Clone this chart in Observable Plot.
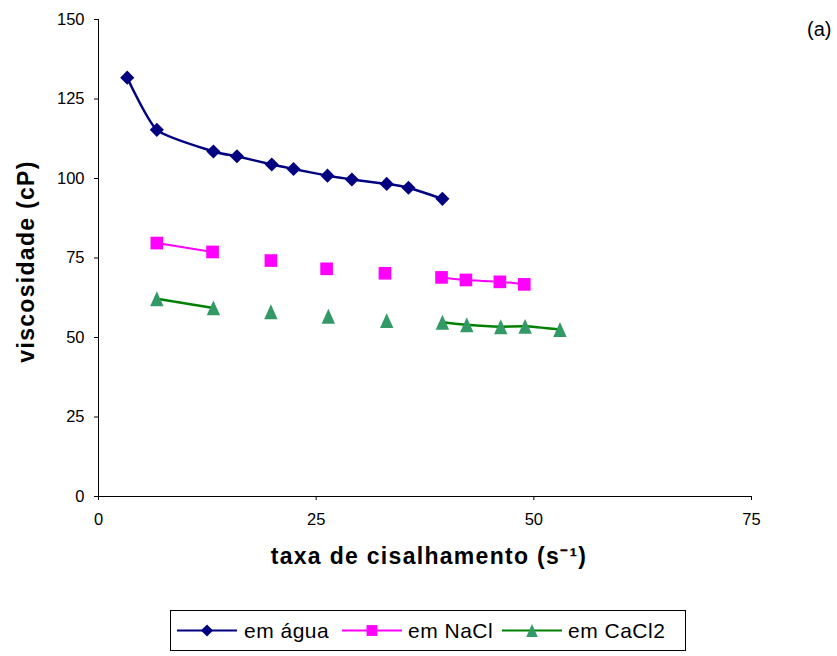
<!DOCTYPE html>
<html>
<head>
<meta charset="utf-8">
<script src="https://cdn.jsdelivr.net/npm/d3@7"></script>
<script src="https://cdn.jsdelivr.net/npm/@observablehq/plot@0.6"></script>
<style>
  body { margin: 0; background: #fff; font-family: "Liberation Sans", Arial, sans-serif; }
  #wrap { position: relative; width: 837px; height: 656px; }
  #legend { position: absolute; left: 170px; top: 610px; width: 514px; height: 39px; border: 1px solid #000; background: #fff; }
  #legend svg { display: block; }
</style>
</head>
<body>
<div id="wrap">
  <div id="chart"></div>
  <div id="legend"></div>
</div>
<script>
// Viscosidade aparente em função da taxa de cisalhamento
const series = ["em água", "em NaCl", "em CaCl2"];

const taxaAgua = [3.3, 6.7, 13.2, 15.9, 19.9, 22.4, 26.3, 29.1, 33.1, 35.6, 39.5];
const viscAgua = [131.7, 115.3, 108.5, 107.0, 104.4, 103.0, 100.9, 99.7, 98.3, 97.1, 93.6];
const trechoAgua = [1, 1, 1, 1, 1, 1, 1, 1, 1, 1, 1];

const taxaNaCl = [6.7, 13.1, 19.8, 26.2, 32.9, 39.4, 42.2, 46.1, 48.9];
const viscNaCl = [79.7, 76.9, 74.2, 71.6, 70.2, 68.9, 68.1, 67.5, 66.7];
const trechoNaCl = [1, 1, 0, 0, 0, 2, 2, 2, 2];

const taxaCaCl2 = [6.7, 13.2, 19.8, 26.4, 33.1, 39.5, 42.3, 46.2, 49.0, 53.0];
const viscCaCl2 = [62.2, 59.3, 58.1, 56.7, 55.3, 54.8, 54.0, 53.4, 53.5, 52.5];
const trechoCaCl2 = [1, 1, 0, 0, 0, 2, 2, 2, 2, 2];

const xTicks = [0, 25, 50, 75];
const yTicks = [0, 25, 50, 75, 100, 125, 150];

const linhas = (taxa, visc, trecho) =>
  taxa.map((t, i) => ({ taxa: t, visc: visc[i], trecho: trecho[i] }));

const agua = linhas(taxaAgua, viscAgua, trechoAgua);
const nacl = linhas(taxaNaCl, viscNaCl, trechoNaCl);
const cacl2 = linhas(taxaCaCl2, viscCaCl2, trechoCaCl2);

// Marcadores no estilo de planilha
const losango = { draw(ctx, size) { const h = Math.sqrt(size) * 0.57; ctx.moveTo(0, -h); ctx.lineTo(h, 0); ctx.lineTo(0, h); ctx.lineTo(-h, 0); ctx.closePath(); } };
const quadrado = { draw(ctx, size) { const h = Math.sqrt(size) * 0.51; ctx.rect(-h, -h, 2 * h, 2 * h); } };
const triangulo = { draw(ctx, size) { const s = Math.sqrt(size); const w = s * 0.54, h = s * 0.6; ctx.moveTo(0, -h); ctx.lineTo(w, h); ctx.lineTo(-w, h); ctx.closePath(); } };

const estilos = [
  { dados: agua, cor: "#000080", marcador: losango, fill: "#000080", largura: 2.5 },
  { dados: nacl, cor: "#FF00FF", marcador: quadrado, fill: "#FF00FF", largura: 2 },
  { dados: cacl2, cor: "#008000", marcador: triangulo, fill: "#339966", largura: 2.5 }
];

const marks = [];
for (const e of estilos) {
  marks.push(Plot.line(e.dados.filter(d => d.trecho > 0), {
    x: "taxa", y: "visc", z: "trecho", stroke: e.cor, strokeWidth: e.largura, curve: "cardinal", tension: 0.4
  }));
}
for (const e of estilos) {
  marks.push(Plot.dot(e.dados, { x: "taxa", y: "visc", symbol: e.marcador, r: 7, fill: e.fill, stroke: "none" }));
}

const chart = Plot.plot({
  width: 837,
  height: 600,
  marginLeft: 98,
  marginRight: 86,
  marginTop: 19,
  marginBottom: 104,
  style: { fontFamily: "'Liberation Sans', Arial, sans-serif", color: "#000", background: "#fff" },
  x: { domain: [0, 75] },
  y: { domain: [0, 150] },
  marks: [
    Plot.axisX({ ticks: xTicks, tickSize: 4, tickPadding: 13, fontSize: 16.5, label: null }),
    Plot.axisY({ ticks: yTicks, tickSize: 4, tickPadding: 10, fontSize: 16.5, label: null }),
    Plot.ruleX([0], { stroke: "#000" }),
    Plot.ruleY([0], { stroke: "#000" }),
    ...marks,
    Plot.text(["viscosidade (cP)"], { frameAnchor: "left", textAnchor: "middle", rotate: -90, dx: -72, dy: 3.5, fontSize: 23, fontWeight: "bold", fill: "#000" }),
    Plot.text(["taxa de cisalhamento (s⁻¹)"], { frameAnchor: "bottom", textAnchor: "middle", dx: 4, dy: 67, fontSize: 23, fontWeight: "bold", fill: "#000" }),
    Plot.text(["(a)"], { frameAnchor: "top-right", textAnchor: "end", dx: 80, dy: 2, fontSize: 20, fill: "#000" })
  ]
});

d3.select(chart).selectAll("text")
  .filter(function () { return /viscosidade|cisalhamento/.test(this.textContent); })
  .style("letter-spacing", "1.3px");

document.getElementById("chart").appendChild(chart);

// Legenda com amostra de linha e marcador
const leg = d3.select("#legend").append("svg").attr("width", 514).attr("height", 39);
const itens = [
  { x0: 6, x1: 66, xt: 73 },
  { x0: 171, x1: 231, xt: 237 },
  { x0: 331, x1: 391, xt: 397 }
];
series.forEach((nome, i) => {
  const e = estilos[i], p = itens[i], cy = 19.5;
  leg.append("line").attr("x1", p.x0).attr("x2", p.x1).attr("y1", cy).attr("y2", cy)
    .attr("stroke", e.cor).attr("stroke-width", 2);
  leg.append("path").attr("d", d3.symbol(e.marcador, Math.PI * 36)())
    .attr("transform", `translate(${(p.x0 + p.x1) / 2},${cy})`).attr("fill", e.fill);
  leg.append("text").attr("x", p.xt).attr("y", cy).attr("dy", "0.36em")
    .attr("font-size", 21).attr("letter-spacing", "0.5px").attr("fill", "#000").text(nome);
});
</script>
</body>
</html>
